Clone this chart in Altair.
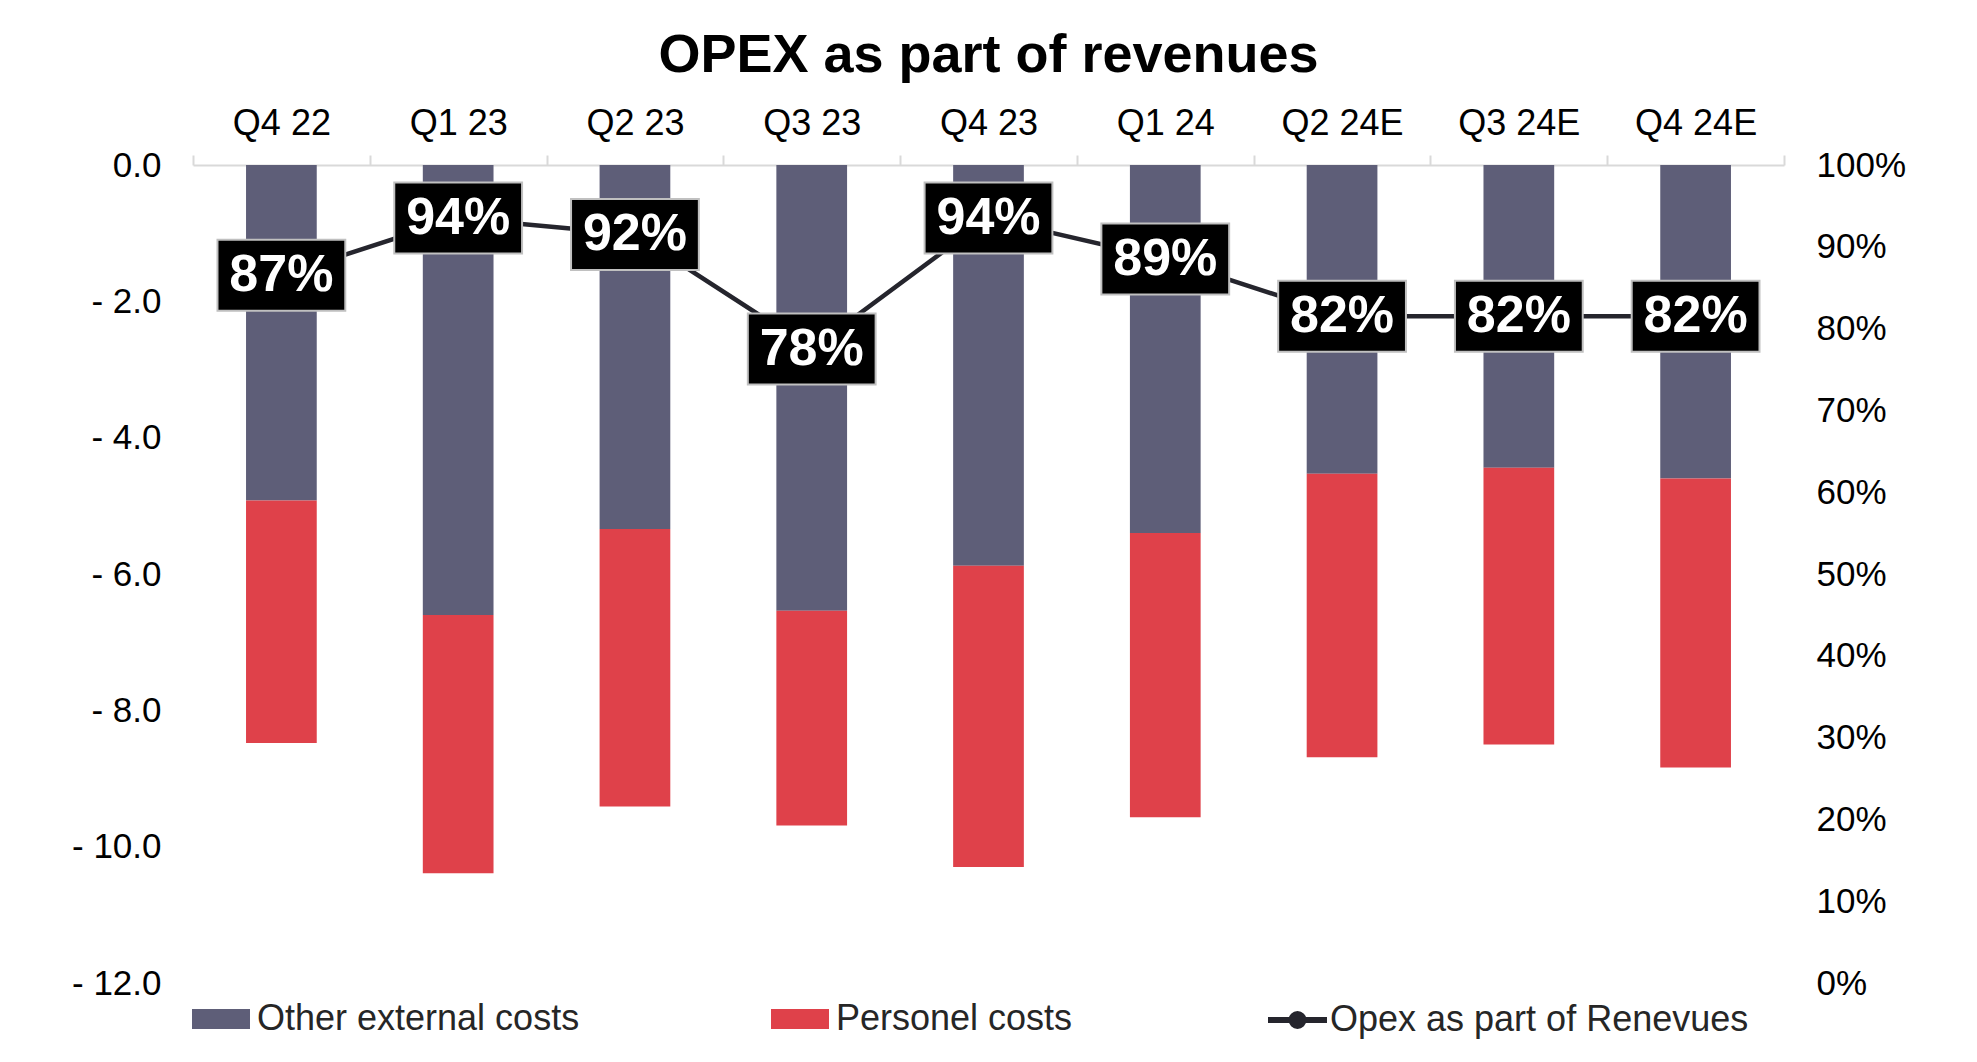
import altair as alt
import pandas as pd

quarters = ["Q4 22", "Q1 23", "Q2 23", "Q3 23", "Q4 23", "Q1 24", "Q2 24E", "Q3 24E", "Q4 24E"]
other_external = [-4.92, -6.60, -5.34, -6.54, -5.88, -5.40, -4.53, -4.44, -4.60]
personnel = [-3.56, -3.79, -4.07, -3.15, -4.42, -4.17, -4.16, -4.06, -4.24]
opex_pct = [0.87, 0.94, 0.92, 0.78, 0.94, 0.89, 0.82, 0.82, 0.82]
series_names = ["Other external costs", "Personel costs"]
line_name = "Opex as part of Renevues"
left_ticks = [-12, -10, -8, -6, -4, -2, 0]
right_ticks = [0, 0.1, 0.2, 0.3, 0.4, 0.5, 0.6, 0.7, 0.8, 0.9, 1.0]
bar_colors = ["#5e5e78", "#df414a"]
line_color = "#25252d"

rows = []
for q, o, p in zip(quarters, other_external, personnel):
    rows.append({"quarter": q, "series": series_names[0], "y0": 0.0, "y1": o})
    rows.append({"quarter": q, "series": series_names[1], "y0": o, "y1": o + p})
bars_df = pd.DataFrame(rows)

line_df = pd.DataFrame({
    "quarter": quarters,
    "pct": opex_pct,
    "label": [f"{round(v * 100)}%" for v in opex_pct],
    "line_series": [line_name] * len(quarters),
})

FONT = "Liberation Sans"
Y_SHIFT = 4

x_enc = alt.X(
    "quarter:N",
    sort=quarters,
    scale=alt.Scale(paddingInner=0, paddingOuter=0),
    axis=alt.Axis(
        orient="top", title=None, labelAngle=0, labelFont=FONT, labelFontSize=36,
        labelColor="#000000", labelPadding=13, tickBand="extent", tickColor="#d9d9d9",
        tickSize=10, tickWidth=2, domainColor="#d9d9d9", domainWidth=2, grid=False,
    ),
)

bars = alt.Chart(bars_df).mark_bar(width=alt.RelativeBandSize(0.4)).encode(
    x=x_enc,
    y=alt.Y(
        "y0:Q",
        scale=alt.Scale(domain=[-12, 0], nice=False, zero=False),
        axis=alt.Axis(
            orient="left", title=None, values=left_ticks,
            labelExpr="datum.value == 0 ? '0.0' : '- ' + format(abs(datum.value), '.1f')",
            ticks=False, domain=False, grid=False, labelFont=FONT, labelFontSize=35,
            labelColor="#000000", labelPadding=32,
        ),
    ),
    y2="y1:Q",
    fill=alt.Fill(
        "series:N",
        scale=alt.Scale(domain=series_names, range=bar_colors),
        legend=alt.Legend(
            title=None, orient="none", legendX=-1, legendY=834, direction="horizontal",
            columns=2, columnPadding=191, symbolType="M-1,-0.5H1.9V0.5H-1Z",
            symbolSize=1600, symbolStrokeWidth=0, labelOffset=25, labelFontSize=36,
            labelFont=FONT, labelColor="#262626", padding=0, labelLimit=0,
        ),
    ),
)

y_pct_axis = alt.Y(
    "pct:Q",
    scale=alt.Scale(domain=[0, 1], nice=False),
    axis=alt.Axis(
        orient="right", title=None, values=right_ticks, format=".0%", ticks=False,
        domain=False, grid=False, labelFont=FONT, labelFontSize=35, labelColor="#000000",
        labelPadding=32,
    ),
)
y_pct_noaxis = alt.Y("pct:Q", scale=alt.Scale(domain=[0, 1], nice=False), axis=None)

line = alt.Chart(line_df).mark_line(strokeWidth=4.5, yOffset=Y_SHIFT).encode(
    x=x_enc,
    y=y_pct_axis,
    stroke=alt.Stroke(
        "line_series:N",
        scale=alt.Scale(domain=[line_name], range=[line_color]),
        legend=alt.Legend(
            title=None, orient="none", legendX=1072, legendY=832,
            symbolType="M-1,0H1.95M0.175,0a0.3,0.3 0 1,0 0.6,0a0.3,0.3 0 1,0 -0.6,0",
            symbolSize=1600, symbolStrokeWidth=6, symbolFillColor="#808080",
            labelOffset=19, labelFontSize=36, labelFont=FONT, labelColor="#262626",
            padding=0, labelLimit=0,
        ),
    ),
)

boxes = alt.Chart(line_df).mark_point(
    shape="M-1.8,-1L1.8,-1L1.8,1L-1.8,1Z", size=5041, filled=True, fill="#000000",
    stroke="#c0c0c0", strokeWidth=2, opacity=1, yOffset=Y_SHIFT,
).encode(x=x_enc, y=y_pct_noaxis)

labels = alt.Chart(line_df).mark_text(
    font=FONT, fontWeight="bold", fontSize=52, color="#ffffff", baseline="middle",
    align="center", yOffset=Y_SHIFT,
).encode(x=x_enc, y=y_pct_noaxis, text="label:N")

chart = alt.layer(bars, line, boxes, labels).resolve_scale(
    y="independent"
).properties(
    width=1591,
    height=818,
    autosize=alt.AutoSizeParams(type="none"),
    padding={"left": 185, "top": 157, "right": 170, "bottom": 70},
    title=alt.TitleParams(
        "OPEX as part of revenues", font=FONT, fontSize=54, fontWeight="bold",
        color="#000000", anchor="middle", baseline="alphabetic", offset=-21,
    ),
).configure(font=FONT).configure_view(strokeWidth=0, stroke=None)

chart.save("out.html", embed_options={"renderer": "svg", "actions": False})
